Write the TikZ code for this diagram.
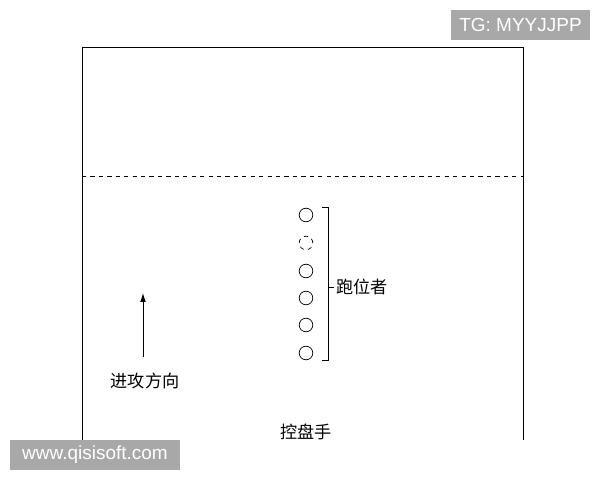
\documentclass[tikz,border=0pt]{standalone}
\usepackage{fontspec}
\setmainfont{Noto Sans CJK SC}
\newfontfamily\marksans{Liberation Sans}
\usetikzlibrary{arrows.meta}

\begin{document}
\begin{tikzpicture}[x=0.25mm,y=-0.25mm]
	\tikzset{runner/.style={draw,circle,minimum size=3.4mm,inner sep=0pt,line width=0.5pt}}
	\tikzset{label/.style={font=\fontsize{12.2pt}{14pt}\selectfont,inner sep=0pt}}
	\tikzset{watermark/.style={fill=black!34,text=white,font=\marksans\fontsize{13.5pt}{15pt}\selectfont,inner sep=0pt,minimum height=7.5mm}}

	\useasboundingbox (0,0) rectangle (600,480);

	% court
	\draw[line width=0.6pt] (82,440) -- (82,47) -- (523,47) -- (523,440);
	\draw[dashed,line width=0.6pt] (82,176) -- (523,176);

	% runners
	\node[runner] (r1) at (306,215) {};
	\node[runner,dashed] (r2) at (306,243) {};
	\node[runner] (r3) at (306,271) {};
	\node[runner] (r4) at (306,298) {};
	\node[runner] (r5) at (306,325) {};
	\node[runner] (r6) at (306,353) {};

	\coordinate (b1) at (328,207);
	\coordinate (b2) at (328,360);
	\coordinate (bm) at (328,287);
	\draw[line width=0.6pt] ([xshift=-1.5mm]b1) -- (b1) -- (b2) -- ([xshift=-1.5mm]b2);
	\draw[line width=0.6pt] (bm) -- ++(6,0) coordinate (bt);
	\node[label,anchor=west] (run) at ([xshift=0.5mm]bt) {跑位者};

	% direction
	\coordinate (a0) at (143,357);
	\coordinate (a1) at (143,293);
	\draw[line width=0.6pt,-{Latex[length=2.2mm,width=1.4mm]}] (a0) -- (a1);
	\node[label] (dir) at (145,381) {进攻方向};

	\node[label] (pg) at (306,432) {控盘手};

	% marks
	\node[watermark,minimum width=34.75mm] (tg) at (520.5,25) {TG: MYYJJPP};
	\node[watermark,minimum width=42.5mm] (web) at (95,455) {www.qisisoft.com};
	\end{tikzpicture}
\end{document}
